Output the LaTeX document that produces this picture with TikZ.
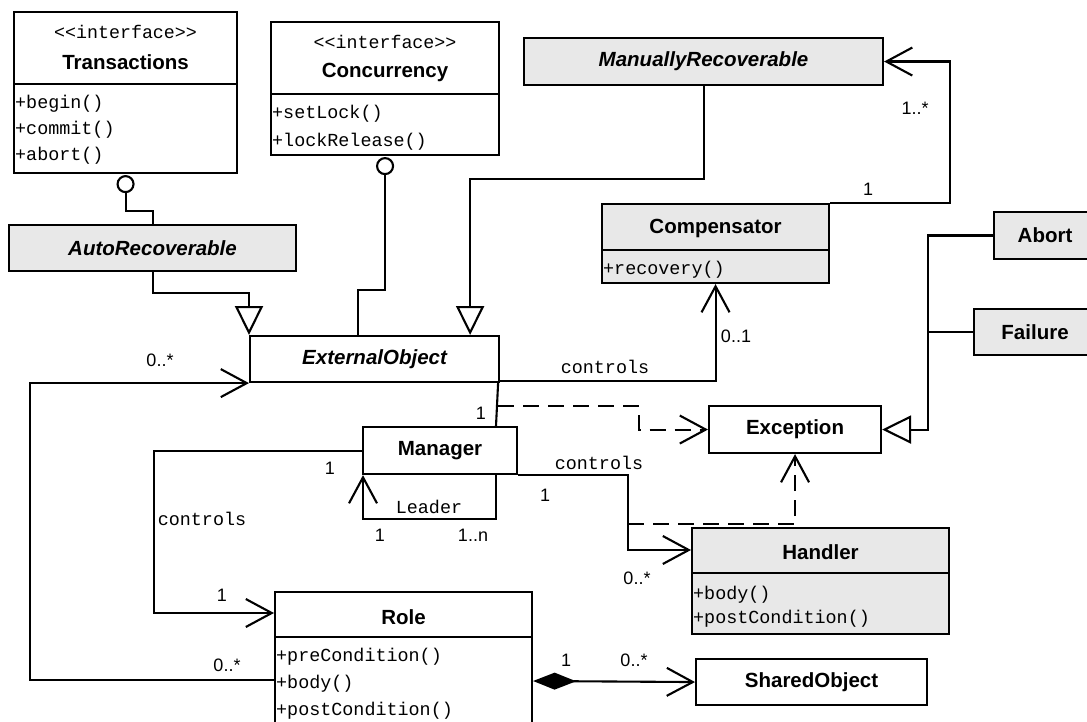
\documentclass[tikz,border=0pt]{standalone}
\usepackage{fontspec}
\setmainfont{Liberation Sans}
\setmonofont{Liberation Mono}[Ligatures=TeXOff]
\usetikzlibrary{arrows.meta,calc}
\definecolor{boxgray}{RGB}{232,232,232}
\tikzset{
  cls/.style={draw, line width=2.1pt, rectangle, inner sep=0pt, anchor=north west},
  shaded/.style={cls, fill=boxgray},
  cname/.style={font=\fontsize{20.5}{24}\selectfont\bfseries, inner sep=0pt},
  aname/.style={font=\fontsize{20.5}{24}\selectfont\bfseries\itshape},
  stereo/.style={font=\fontsize{18.3}{21}\selectfont\ttfamily, inner sep=0pt},
  op/.style={font=\fontsize{18.4}{21}\selectfont\ttfamily, anchor=west, inner sep=0pt},
  mult/.style={font=\fontsize{18}{21}\selectfont, inner sep=0pt},
  rolelbl/.style={font=\fontsize{18.4}{21}\selectfont\ttfamily, inner sep=0pt},
  conn/.style={line width=2.1pt},
  assoc/.style={conn, -{Straight Barb[length=26pt,width=28pt]}},
  gen/.style={conn, -{Triangle[open,length=29pt,width=28pt]}},
  dep/.style={conn, dash pattern=on 16pt off 9pt, -{Straight Barb[length=26pt,width=28pt]}},
  compo/.style={conn, {Diamond[length=43pt,width=17pt]}-{Straight Barb[length=26pt,width=28pt]}},
  lolly/.style={draw, circle, line width=2.1pt, minimum size=16pt, inner sep=0pt, fill=white},
}
\begin{document}
\begin{tikzpicture}[x=1pt,y=-1pt]
\useasboundingbox (0,0) rectangle (1087,722);

% ---- interfaces ----
\node[cls, minimum width=223pt, minimum height=161pt] (trans) at (13,11) {};
\draw[conn] ($(trans.north west)+(0,73)$) -- ($(trans.north east)+(0,73)$);
\node[stereo] (trans-s) at ($(trans.north)+(0,21)$) {<<interface>>};
\node[cname] (trans-n) at ($(trans.north)+(0,51)$) {Transactions};
\node[op] (trans-o1) at ($(trans.north west)+(2,93)$) {+begin()};
\node[op] (trans-o2) at ($(trans.north west)+(2,119)$) {+commit()};
\node[op] (trans-o3) at ($(trans.north west)+(2,145)$) {+abort()};

\node[cls, minimum width=228pt, minimum height=133pt] (conc) at (270,21) {};
\draw[conn] ($(conc.north west)+(0,73)$) -- ($(conc.north east)+(0,73)$);
\node[stereo] (conc-s) at ($(conc.north)+(0,21)$) {<<interface>>};
\node[cname] (conc-n) at ($(conc.north)+(0,51)$) {Concurrency};
\node[op] (conc-o1) at ($(conc.north west)+(2,93)$) {+setLock()};
\node[op] (conc-o2) at ($(conc.north west)+(2,121)$) {+lockRelease()};

% ---- abstract classes ----
\node[shaded, aname, minimum width=359pt, minimum height=47pt] (man) at (523,37) {ManuallyRecoverable};
\node[shaded, aname, minimum width=287pt, minimum height=46pt] (auto) at (8,224) {AutoRecoverable};
\node[cls, aname, minimum width=249pt, minimum height=46pt] (ext) at (249,335) {ExternalObject};

% ---- classes ----
\node[shaded, minimum width=227pt, minimum height=79pt] (comp) at (601,203) {};
\draw[conn] ($(comp.north west)+(0,47)$) -- ($(comp.north east)+(0,47)$);
\node[cname] (comp-n) at ($(comp.north)+(0,25)$) {Compensator};
\node[op] (comp-o1) at ($(comp.north west)+(2,67)$) {+recovery()};

\node[shaded, cname, minimum width=102pt, minimum height=47pt] (abort) at (993,211) {Abort};
\node[shaded, cname, minimum width=122pt, minimum height=46pt] (fail) at (973,308) {Failure};
\node[cls, cname, minimum width=172pt, minimum height=47pt] (exc) at (708,405) {Exception};
\node[cls, cname, minimum width=154pt, minimum height=47pt] (mgr) at (362,426) {Manager};

\node[shaded, minimum width=257pt, minimum height=106pt] (hand) at (691,527) {};
\draw[conn] ($(hand.north west)+(0,46)$) -- ($(hand.north east)+(0,46)$);
\node[cname] (hand-n) at ($(hand.north)+(0,25)$) {Handler};
\node[op] (hand-o1) at ($(hand.north west)+(2,68)$) {+body()};
\node[op] (hand-o2) at ($(hand.north west)+(2,92)$) {+postCondition()};

\node[cls, minimum width=257pt, minimum height=140pt] (role) at (274,591) {};
\draw[conn] ($(role.north west)+(0,46)$) -- ($(role.north east)+(0,46)$);
\node[cname] (role-n) at ($(role.north)+(0,26)$) {Role};
\node[op] (role-o1) at ($(role.north west)+(2,66)$) {+preCondition()};
\node[op] (role-o2) at ($(role.north west)+(2,93)$) {+body()};
\node[op] (role-o3) at ($(role.north west)+(2,120)$) {+postCondition()};

\node[cls, cname, minimum width=231pt, minimum height=46pt] (shared) at (695,658) {SharedObject};

% ---- provided interfaces (lollipops) ----
\node[lolly] (lt) at ($(trans.south)+(0,10)$) {};
\draw[conn] (lt.south) -- ++(0,18) -| (auto.north);
\node[lolly] (lc) at ($(conc.south)+(0,10)$) {};
\draw[conn] (lc.south) -- ++(0,115) -| ($(ext.north west)+(109,0)$);

% ---- generalizations ----
\draw[gen] (auto.south) -- ++(0,21) -| (ext.north west);
\draw[gen] (man.south) -- ++(0,93) -| ($(ext.north east)+(-30,0)$);
\draw[gen] (abort.west) -- ++(-65,0) |- (exc.east);
\draw[conn] (fail.west) -- ++(-45,0);

% ---- associations ----
\draw[assoc] (comp.north east) -- ++(120,0) |- (man.east);
\node[mult] (m-cm1) at (868,189) {1};
\node[mult] (m-cm2) at (915,108) {1..*};

\draw[assoc] ($(ext.south east)+(0,-2)$) -| (comp.south);
\node[rolelbl] (l-ec) at (605,367) {controls};
\node[mult] (m-ec) at (736,336) {0..1};

\draw[assoc] ($(role.north west)+(0,89)$) -- ++(-244,0) |- (ext.south west);
\node[mult] (m-re1) at (160,360) {0..*};
\node[mult] (m-re2) at (227,665) {0..*};

\draw[conn] ($(ext.south east)+(-2,0)$) -- ($(mgr.north west)+(134,0)$);
\node[mult] (m-em) at (481,413) {1};

\coordinate (dx) at ($(ext.south east)+(-2,23)$);
\draw[dep] (dx) -- ++(141,0) |- (exc.west);

\draw[assoc] ($(mgr.south west)+(134,0)$) -- ++(0,44) -| ($(mgr.south west)+(1,0)$);
\node[rolelbl] (l-ld) at (429,507) {Leader};
\node[mult] (m-ld1) at (380,535) {1};
\node[mult] (m-ld2) at (473,535) {1..n};

\draw[assoc] (mgr.west) -- ++(-208,0) |- ($(role.north west)+(0,22)$);
\node[rolelbl] (l-mr) at (202,519) {controls};
\node[mult] (m-mr1) at (330,468) {1};
\node[mult] (m-mr2) at (222,595) {1};

\draw[assoc] (mgr.south east) -- ++(110,0) |- ($(hand.north west)+(0,23)$);
\node[rolelbl] (l-mh) at (599,463) {controls};
\node[mult] (m-mh1) at (545,495) {1};
\node[mult] (m-mh2) at (637,578) {0..*};

\coordinate (dh) at ($(mgr.south east)+(110,49)$);
\draw[dep] (dh) -| (exc.south);

\draw[compo] ($(role.north east)+(0,90)$) -- (shared.west);
\node[mult] (m-rs1) at (566,660) {1};
\node[mult] (m-rs2) at (634,660) {0..*};
\end{tikzpicture}
\end{document}
